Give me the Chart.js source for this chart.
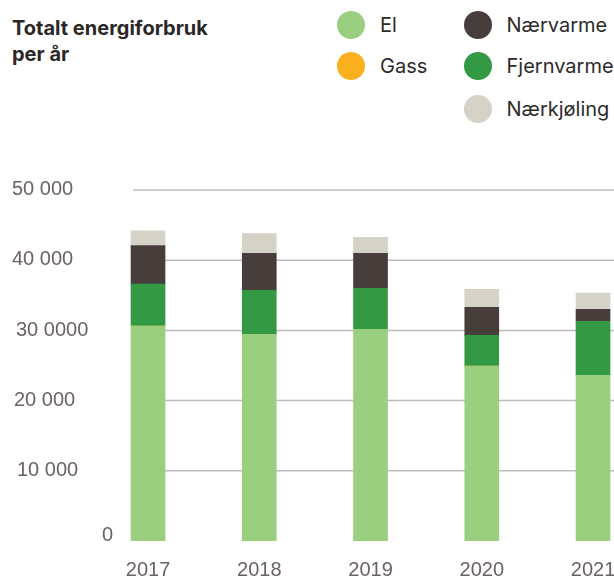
<!DOCTYPE html>
<html lang="no">
<head>
<meta charset="utf-8">
<script src="https://cdn.jsdelivr.net/npm/chart.js@4.4.1/dist/chart.umd.min.js"></script>
<style>
  body { margin: 0; width: 614px; height: 577px; overflow: hidden; background: #fff; position: relative; font-family: Inter, sans-serif; }
  #title { position: absolute; left: 12px; top: 15px; font-weight: 700; font-size: 20px; line-height: 26px; color: #2b2727; }
  .item { position: absolute; display: flex; align-items: center; height: 28px; font-size: 20px; color: #2e2a2a; white-space: nowrap; }
  .dot { width: 28px; height: 28px; border-radius: 50%; margin-right: 15px; flex: none; }
  #wrap { position: absolute; left: 0; top: 0; }
</style>
</head>
<body>
<div id="title">Totalt energiforbruk<br>per år</div>
<div id="legend"></div>
<div id="wrap"><canvas id="chart" width="652" height="577"></canvas></div>
<script>
const years = ["2017", "2018", "2019", "2020", "2021"];
const el = [30600, 29450, 30150, 24900, 23600];
const gass = [0, 0, 0, 0, 0];
const fjernvarme = [6000, 6250, 5850, 4400, 7700];
const naervarme = [5500, 5270, 4980, 4000, 1700];
const naerkjoling = [2100, 2830, 2270, 2550, 2300];

const yTicks = [0, 10000, 20000, 30000, 40000, 50000];
const yTickLabels = ["0", "10 000", "20 000", "30 0000", "40 000", "50 000"];

const series = [
  { label: "El", data: el, color: "#9bcf80" },
  { label: "Gass", data: gass, color: "#fbb01f" },
  { label: "Fjernvarme", data: fjernvarme, color: "#339945" },
  { label: "Nærvarme", data: naervarme, color: "#473d3b" },
  { label: "Nærkjøling", data: naerkjoling, color: "#d5d3c8" },
];

// legend: two columns like the original
const legendSpots = {
  "El": [337, 11], "Gass": [337, 52],
  "Nærvarme": [463.5, 11], "Fjernvarme": [463.5, 52], "Nærkjøling": [463.5, 95],
};
const legend = document.getElementById("legend");
series.forEach((s) => {
  const [x, y] = legendSpots[s.label];
  const item = document.createElement("div");
  item.className = "item";
  item.style.left = x + "px";
  item.style.top = y + "px";
  item.innerHTML = `<span class="dot" style="background:${s.color}"></span>${s.label}`;
  legend.appendChild(item);
});

const textColor = "#6b6361";
const axisFont = "Liberation Sans";
const labelX = [102, 17, 14, 16, 12, 12];
const labelDy = [-6, 0, 0, 0, -1, -1];

const gridAndLabels = {
  id: "gridAndLabels",
  beforeDatasetsDraw(chart) {
    const { ctx } = chart;
    const y = chart.scales.y;
    ctx.save();
    ctx.strokeStyle = "#bcbcbc";
    ctx.lineWidth = 1.5;
    yTicks.forEach((v) => {
      if (v === 0) return;
      const py = y.getPixelForValue(v);
      ctx.beginPath();
      ctx.moveTo(133, py);
      ctx.lineTo(chart.width, py);
      ctx.stroke();
    });
    ctx.fillStyle = textColor;
    ctx.font = "20px " + axisFont;
    ctx.textAlign = "left";
    ctx.textBaseline = "middle";
    yTicks.forEach((v, i) => {
      ctx.fillText(yTickLabels[i], labelX[i], y.getPixelForValue(v) + labelDy[i]);
    });
    ctx.restore();
  },
};

new Chart(document.getElementById("chart").getContext("2d"), {
  type: "bar",
  data: {
    labels: years,
    datasets: series.map((s) => ({
      label: s.label,
      data: s.data,
      backgroundColor: s.color,
      borderWidth: 0,
      barThickness: 34,
    })),
  },
  options: {
    responsive: false,
    animation: false,
    layout: { padding: { left: 92.4, right: 3.35, top: 190, bottom: -22 } },
    plugins: { legend: { display: false }, tooltip: { enabled: false } },
    scales: {
      x: {
        stacked: true,
        grid: { display: false, drawTicks: false },
        border: { display: false },
        ticks: { color: textColor, font: { family: axisFont, size: 20 }, padding: 17 },
      },
      y: {
        stacked: true,
        display: false,
        min: 0,
        max: 50000,
      },
    },
  },
  plugins: [gridAndLabels],
});
</script>
</body>
</html>
